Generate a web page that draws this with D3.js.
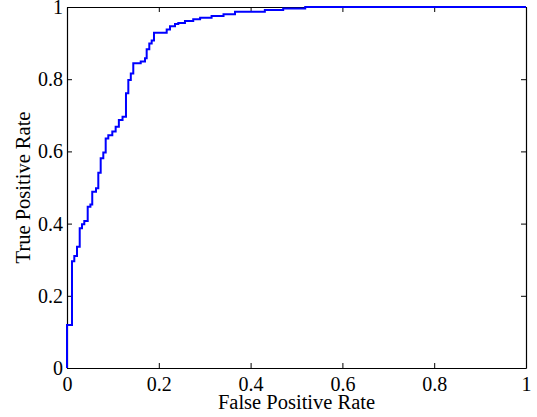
<!DOCTYPE html>
<html>
<head>
<meta charset="utf-8">
<script src="https://cdn.jsdelivr.net/npm/d3@7"></script>
<style>
  body { margin: 0; background: #fff; }
  svg { display: block; }
  .tick text { font-family: "Liberation Serif", "Times New Roman", serif; font-size: 20px; fill: #000; }
</style>
</head>
<body>
<div id="app"></div>
<script>
// ROC curve corners (false positive rate, true positive rate)
const fpr = [0, 0, 0.0109, 0.0159, 0.0218, 0.0277, 0.0327, 0.0377, 0.0451, 0.051, 0.055,
  0.0632, 0.0682, 0.0734, 0.0791, 0.0843, 0.09, 0.0987, 0.106, 0.113, 0.121,
  0.1285, 0.1336, 0.139, 0.1444, 0.1606, 0.17, 0.1736, 0.1793, 0.1845, 0.1895,
  0.2172, 0.2244, 0.2353, 0.2425, 0.257, 0.275, 0.29, 0.315, 0.341, 0.366,
  0.431, 0.471, 0.519, 1]
const tpr = [0, 0.119, 0.296, 0.31, 0.336, 0.387, 0.398, 0.407, 0.447, 0.453, 0.488,
  0.498, 0.541, 0.581, 0.597, 0.636, 0.645, 0.655, 0.668, 0.687, 0.696,
  0.761, 0.798, 0.816, 0.844, 0.849, 0.858, 0.883, 0.899, 0.907, 0.929,
  0.938, 0.947, 0.953, 0.956, 0.961, 0.966, 0.970, 0.975, 0.98, 0.987,
  0.992, 0.996, 1, 1]
const tickVals = [0, 0.2, 0.4, 0.6, 0.8, 1]
const xLabel = "False Positive Rate"
const yLabel = "True Positive Rate"

const width = 537
const height = 417
const marginLeft = 67
const marginRight = 11
const marginTop = 7
const marginBottom = 49

const x = d3.scaleLinear().domain([0, 1]).range([marginLeft, width - marginRight])
const y = d3.scaleLinear().domain([0, 1]).range([height - marginBottom, marginTop])

const svg = d3.select('#app')
  .append('svg')
  .attr('width', width)
  .attr('height', height)

const fmt = d => d === 0 || d === 1 ? String(d) : d3.format('.1f')(d)

// bottom + top axes, ticks pointing inward
svg.append('g')
  .attr('transform', `translate(0,${y(0)})`)
  .call(d3.axisBottom(x).tickValues(tickVals).tickFormat(fmt).tickSizeInner(-5).tickSizeOuter(0).tickPadding(9))
svg.append('g')
  .attr('transform', `translate(0,${y(1)})`)
  .call(d3.axisTop(x).tickValues(tickVals).tickFormat('').tickSizeInner(-5).tickSizeOuter(0))

svg.append('g')
  .attr('transform', `translate(${x(0)},0)`)
  .call(d3.axisLeft(y).tickValues(tickVals).tickFormat(fmt).tickSizeInner(-5).tickSizeOuter(0).tickPadding(4))
svg.append('g')
  .attr('transform', `translate(${x(1)},0)`)
  .call(d3.axisRight(y).tickValues(tickVals).tickFormat('').tickSizeInner(-5).tickSizeOuter(0))

svg.selectAll('.domain').attr('stroke', '#000').attr('stroke-width', 1.2)
svg.selectAll('.tick line').attr('stroke', '#000')

const line = d3.line()
  .x(i => x(fpr[i]))
  .y(i => y(tpr[i]))
  .curve(d3.curveStepAfter)

svg.append('path')
  .attr('d', line(d3.range(fpr.length)))
  .attr('fill', 'none')
  .attr('stroke', '#0000ff')
  .attr('stroke-width', 2)

svg.append('text')
  .attr('x', (x(0) + x(1)) / 2)
  .attr('y', 409)
  .attr('text-anchor', 'middle')
  .style('font-family', '"Liberation Serif", "Times New Roman", serif')
  .style('font-size', '20.5px')
  .text(xLabel)

svg.append('text')
  .attr('transform', `translate(29.5,${(y(0) + y(1)) / 2}) rotate(-90)`)
  .attr('text-anchor', 'middle')
  .style('font-family', '"Liberation Serif", "Times New Roman", serif')
  .style('font-size', '20.5px')
  .text(yLabel)
</script>
</body>
</html>
